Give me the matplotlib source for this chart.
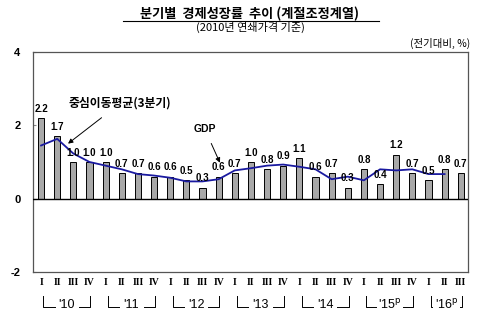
import matplotlib
matplotlib.use("Agg")
import matplotlib.pyplot as plt
import numpy as np

plt.rcParams['font.family'] = ['Liberation Sans', 'Noto Sans CJK KR', 'DejaVu Sans']

# quarterly GDP growth (q/q, %), 2010 Q1 .. 2016 Q3
years = ["'10", "'11", "'12", "'13", "'14", "'15", "'16"]
year_prelim = [False, False, False, False, False, True, True]
quarters_per_year = [4, 4, 4, 4, 4, 4, 3]
quarter_names = ['I', 'II', 'III', 'IV']
gdp = [2.2, 1.7, 1.0, 1.0,
       1.0, 0.7, 0.7, 0.6,
       0.6, 0.5, 0.3, 0.6,
       0.7, 1.0, 0.8, 0.9,
       1.1, 0.6, 0.7, 0.3,
       0.8, 0.4, 1.2, 0.7,
       0.5, 0.8, 0.7]
# centred 3-quarter moving average
ma3 = [1.45, 1.63, 1.23, 1.00,
       0.90, 0.80, 0.67, 0.63,
       0.57, 0.47, 0.47, 0.53,
       0.77, 0.83, 0.90, 0.93,
       0.87, 0.80, 0.53, 0.60,
       0.50, 0.80, 0.77, 0.80,
       0.67, 0.67]

x = np.arange(len(gdp))

fig = plt.figure(figsize=(5, 3.23), dpi=100)
ax = fig.add_axes([0.066, 0.158, 0.870, 0.681])

ax.bar(x, gdp, width=0.38, color='#a8a8a8', edgecolor='black', linewidth=0.7, zorder=2)
ax.plot(np.arange(len(ma3)), ma3, color='#1a1aa0', linewidth=1.3, zorder=3)
ax.axhline(0, color='black', linewidth=1.0, zorder=4)

for xi, v in zip(x, gdp):
    ax.text(xi, v + 0.12, f'{v:.1f}', ha='center', va='bottom', fontsize=7,
            fontweight='bold', zorder=5)

ax.set_xlim(-0.5, 26.45)
ax.set_ylim(-2, 4)
ax.set_yticks([-2, 0, 2, 4])
ax.set_yticklabels(['-2', '0', '2', '4'], fontweight='bold', fontsize=8)
ax.tick_params(axis='y', direction='in', length=2, pad=9, color='#888888')
ax.set_xticks([])
for s in ax.spines.values():
    s.set_color('#555555')
    s.set_linewidth(0.9)

# annotations
ax.annotate('중심이동평균(3분기)', xy=(1.67, 1.50), xytext=(4.9, 2.6),
            ha='center', va='center', fontsize=8.5, fontweight='bold',
            family=['Noto Sans CJK KR', 'DejaVu Sans'],
            arrowprops=dict(arrowstyle='-|>', color='black', lw=0.7,
                            mutation_scale=7, shrinkA=6, shrinkB=0))
ax.annotate('GDP', xy=(11.08, 0.98), xytext=(10.15, 1.89),
            ha='center', va='center', fontsize=7.5, fontweight='bold',
            arrowprops=dict(arrowstyle='-|>', color='black', lw=0.7,
                            mutation_scale=7, shrinkA=5, shrinkB=0))

# quarter and year labels under the axis
trans = ax.get_xaxis_transform()
i = 0
for yr, n, prelim in zip(years, quarters_per_year, year_prelim):
    for q in range(n):
        ax.text(i + q, -0.05, quarter_names[q], transform=trans, ha='center', va='center',
                fontsize=7, fontweight='bold', family='Liberation Serif')
    x0, x1 = i + 0.15, i + n - 1 + 0.05
    xm = (x0 + x1) / 2
    label = yr + (r'$^{\mathrm{p}}$' if prelim else '')
    ax.text(xm, -0.148, label, transform=trans, ha='center', va='center', fontsize=9)
    half = 0.85 if prelim else 0.75
    ax.plot([x0, x0, xm - half], [-0.11, -0.16, -0.16], transform=trans,
            color='black', lw=0.7, clip_on=False)
    ax.plot([xm + half, x1, x1], [-0.16, -0.16, -0.11], transform=trans,
            color='black', lw=0.7, clip_on=False)
    i += n

# titles
fig.text(0.5, 0.958, '분기별  경제성장률  추이 (계절조정계열)', ha='center', va='center',
         fontsize=9.5, fontweight='bold', family=['Noto Sans CJK KR', 'DejaVu Sans'])
fig.add_artist(plt.Line2D([0.246, 0.758], [0.936, 0.936], color='black', lw=0.8))
fig.text(0.5, 0.914, '(2010년 연쇄가격 기준)', ha='center', va='center',
         fontsize=8, family=['Noto Sans CJK KR', 'DejaVu Sans'])
fig.text(0.94, 0.866, '(전기대비, %)', ha='right', va='center',
         fontsize=7.5, family=['Noto Sans CJK KR', 'DejaVu Sans'])

fig.savefig('out.png', dpi=100)
